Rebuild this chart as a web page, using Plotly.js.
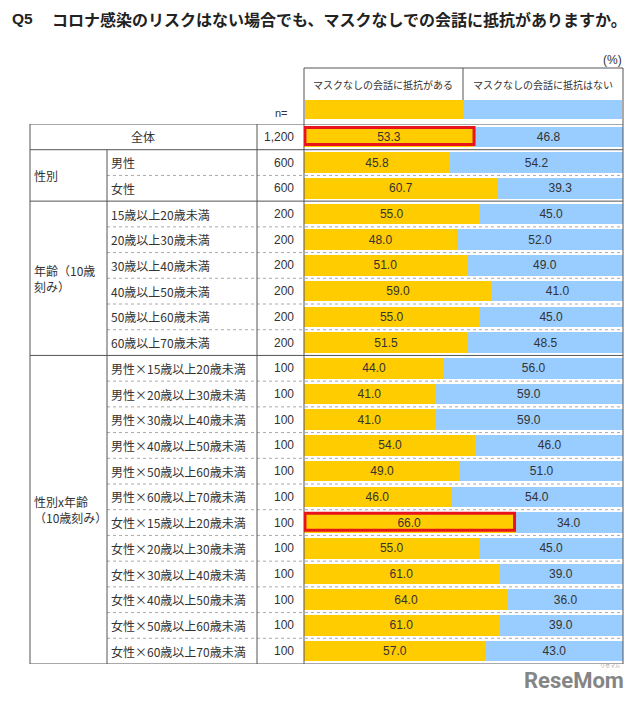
<!DOCTYPE html>
<html>
<head>
<meta charset="utf-8">
<script src="https://cdn.plot.ly/plotly-3.0.1.min.js"></script>
<style>html,body{margin:0;padding:0;background:#fff;}</style>
</head>
<body>
<div id="chart" style="width:640px;height:703px;"></div>
<script>
// ---- data ----
const categories = ["全体","男性","女性",
  "15歳以上20歳未満","20歳以上30歳未満","30歳以上40歳未満","40歳以上50歳未満","50歳以上60歳未満","60歳以上70歳未満",
  "男性×15歳以上20歳未満","男性×20歳以上30歳未満","男性×30歳以上40歳未満","男性×40歳以上50歳未満","男性×50歳以上60歳未満","男性×60歳以上70歳未満",
  "女性×15歳以上20歳未満","女性×20歳以上30歳未満","女性×30歳以上40歳未満","女性×40歳以上50歳未満","女性×50歳以上60歳未満","女性×60歳以上70歳未満"];
const nValues = ["1,200","600","600","200","200","200","200","200","200",
  "100","100","100","100","100","100","100","100","100","100","100","100"];
const resistYes = [53.3,45.8,60.7,55.0,48.0,51.0,59.0,55.0,51.5,44.0,41.0,41.0,54.0,49.0,46.0,66.0,55.0,61.0,64.0,61.0,57.0];
const resistNo  = [46.8,54.2,39.3,45.0,52.0,49.0,41.0,45.0,48.5,56.0,59.0,59.0,46.0,51.0,54.0,34.0,45.0,39.0,36.0,39.0,43.0];
const seriesNames = ["マスクなしの会話に抵抗がある","マスクなしの会話に抵抗はない"];
const groupLabels = ["性別","年齢（10歳<br>刻み）","性別x年齢<br>（10歳刻み）"];
const groupRanges = [[1,2],[3,8],[9,20]];
const highlighted = [0,15];
const title = "コロナ感染のリスクはない場合でも、マスクなしでの会話に抵抗がありますか。";

// ---- geometry helpers ----
const W = 640, H = 703;
const px = x => x / W;
const py = y => 1 - y / H;
const JP = '"Noto Sans CJK JP", "Noto Sans", sans-serif';
const NUM = '"Liberation Sans", Arial, sans-serif';
const TXT = '#333333';
const YELLOW = '#FFCC00', BLUE = '#99CCFF';

const traces = [
  {type:'bar', orientation:'h', name:seriesNames[0], y:categories, x:resistYes,
   marker:{color:YELLOW, line:{width:0}}, text:resistYes.map(v=>v.toFixed(1)),
   textposition:'inside', insidetextanchor:'middle', textangle:0, constraintext:'none',
   textfont:{family:NUM, size:12, color:TXT}, hoverinfo:'skip'},
  {type:'bar', orientation:'h', name:seriesNames[1], y:categories, x:resistNo,
   marker:{color:BLUE, line:{width:0}}, text:resistNo.map(v=>v.toFixed(1)),
   textposition:'inside', insidetextanchor:'middle', textangle:0, constraintext:'none',
   textfont:{family:NUM, size:12, color:TXT}, hoverinfo:'skip'}
];

const shapes = [];
const annotations = [];
const last = categories.length - 0.5;
const solidColor = '#555555';
// solid horizontal lines
[-0.5, 0.5, 2.5, 8.5, last].forEach(y => shapes.push({type:'line', xref:'paper', yref:'y',
  x0:px(30), x1:px(623), y0:y, y1:y, line:{color:solidColor, width:1}}));
// dotted lines within groups
for (let i = 1; i < categories.length - 1; i++) {
  const b = i + 0.5;
  if ([0.5,2.5,8.5].includes(b)) continue;
  shapes.push({type:'line', xref:'paper', yref:'y', x0:px(107), x1:px(623), y0:b, y1:b,
    line:{color:'#aaaaaa', width:1, dash:'dot'}});
}
// vertical lines
shapes.push({type:'line', xref:'paper', yref:'y', x0:px(30), x1:px(30), y0:-0.5, y1:last, line:{color:solidColor, width:1}});
shapes.push({type:'line', xref:'paper', yref:'y', x0:px(107), x1:px(107), y0:0.5, y1:last, line:{color:solidColor, width:1}});
shapes.push({type:'line', xref:'paper', yref:'y', x0:px(257), x1:px(257), y0:-0.5, y1:last, line:{color:solidColor, width:1}});
shapes.push({type:'line', xref:'paper', yref:'paper', x0:px(304), x1:px(304), y0:py(68), y1:py(664), line:{color:solidColor, width:1}});
shapes.push({type:'line', xref:'paper', yref:'paper', x0:px(623), x1:px(623), y0:py(68), y1:py(664), line:{color:solidColor, width:1}});
// header box
shapes.push({type:'line', xref:'paper', yref:'paper', x0:px(304), x1:px(623), y0:py(68), y1:py(68), line:{color:solidColor, width:1}});
shapes.push({type:'line', xref:'paper', yref:'paper', x0:px(463), x1:px(463), y0:py(68), y1:py(100), line:{color:solidColor, width:1}});
// legend swatches
shapes.push({type:'rect', xref:'paper', yref:'paper', x0:px(305), x1:px(463), y0:py(100), y1:py(119), fillcolor:YELLOW, line:{width:0}});
shapes.push({type:'rect', xref:'paper', yref:'paper', x0:px(463), x1:px(622), y0:py(100), y1:py(119), fillcolor:BLUE, line:{width:0}});
// red highlights
highlighted.forEach(i => shapes.push({type:'rect', xref:'x', yref:'y', x0:0.3, x1:resistYes[i], y0:i-0.36, y1:i+0.3,
  line:{color:'#E8141B', width:3}, fillcolor:'rgba(0,0,0,0)'}));

// text annotations
annotations.push({xref:'paper', yref:'paper', x:px(10), y:py(19), text:'<b>Q5</b>', showarrow:false, xanchor:'left', yanchor:'middle', font:{family:NUM, size:15.5, color:'#222'}});
annotations.push({xref:'paper', yref:'paper', x:px(50), y:py(19), text:'<b>'+title+'</b>', showarrow:false, xanchor:'left', yanchor:'middle', font:{family:JP, size:16, color:'#222'}});
annotations.push({xref:'paper', yref:'paper', x:px(624), y:py(60), text:'(%)', showarrow:false, xanchor:'right', yanchor:'middle', font:{family:NUM, size:12, color:TXT}});
annotations.push({xref:'paper', yref:'paper', x:px(383), y:py(84), text:seriesNames[0], showarrow:false, xanchor:'center', yanchor:'middle', font:{family:JP, size:10, color:TXT}});
annotations.push({xref:'paper', yref:'paper', x:px(543), y:py(84), text:seriesNames[1], showarrow:false, xanchor:'center', yanchor:'middle', font:{family:JP, size:10, color:TXT}});
annotations.push({xref:'paper', yref:'paper', x:px(281), y:py(113), text:'n=', showarrow:false, xanchor:'center', yanchor:'middle', font:{family:NUM, size:11, color:TXT}});
categories.forEach((c, i) => {
  if (i === 0) {
    annotations.push({xref:'paper', yref:'y', x:px(143), y:c, text:c, showarrow:false, xanchor:'center', yanchor:'middle', font:{family:JP, size:12, color:TXT}});
  } else {
    annotations.push({xref:'paper', yref:'y', x:px(109), y:c, text:c, showarrow:false, xanchor:'left', yanchor:'middle', font:{family:JP, size:12, color:TXT}});
  }
  annotations.push({xref:'paper', yref:'y', x:px(296), y:c, text:nValues[i], showarrow:false, xanchor:'right', yanchor:'middle', font:{family:NUM, size:12, color:TXT}});
});
groupLabels.forEach((g, k) => {
  const mid = (groupRanges[k][0] + groupRanges[k][1]) / 2;
  annotations.push({xref:'paper', yref:'y', x:px(32), y:mid, text:g, showarrow:false, xanchor:'left', yanchor:'middle', align:'left', font:{family:JP, size:12, color:TXT}});
});
// logo
annotations.push({xref:'paper', yref:'paper', x:px(626), y:py(680), text:'<b>ReseMom</b>', showarrow:false, xanchor:'right', yanchor:'middle', font:{family:'Roboto, sans-serif', size:22, color:'#858585'}});
annotations.push({xref:'paper', yref:'paper', x:px(622), y:py(665), text:'リセマム', showarrow:false, xanchor:'right', yanchor:'middle', font:{family:JP, size:5, color:'#999'}});

const layout = {
  width:W, height:H, margin:{l:0,r:0,t:0,b:0},
  paper_bgcolor:'#fff', plot_bgcolor:'#fff',
  barmode:'stack', bargap:0.2, showlegend:false,
  xaxis:{domain:[px(304), px(623)], range:[0,100], showgrid:false, zeroline:false, showticklabels:false, fixedrange:true},
  yaxis:{domain:[py(664), py(124)], type:'category', categoryorder:'array', categoryarray:categories,
    range:[last, -0.5], showgrid:false, zeroline:false, showticklabels:false, fixedrange:true},
  shapes:shapes, annotations:annotations
};
Plotly.newPlot('chart', traces, layout, {displayModeBar:false, staticPlot:true});
</script>
</body>
</html>
